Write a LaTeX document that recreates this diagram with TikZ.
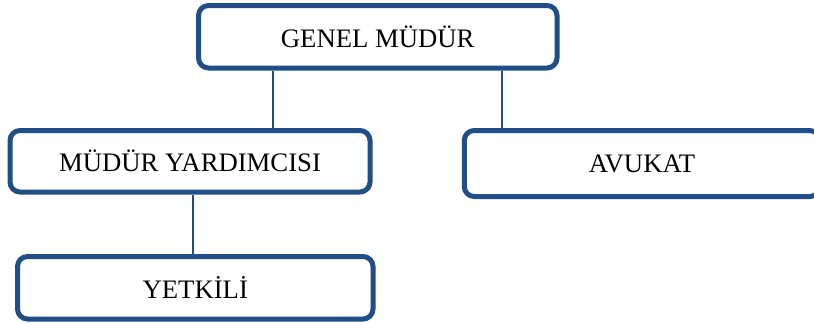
\documentclass[tikz,border=0pt]{standalone}
\usepackage{fontspec}
\setmainfont{Liberation Serif}
\usetikzlibrary{positioning}
\definecolor{boxblue}{RGB}{33,78,134}
\tikzset {
  % rounded box for one post
  post/.style = {
    draw = boxblue,
    line width = 5pt,
    rounded corners = 10pt,
    rectangle,
    fill = white,
    minimum width = 356pt,
    minimum height = 62pt,
    inner sep = 0,
    font = \fontsize{26.7}{32}\selectfont
  },
  % plain connector line
  link/.style = {
    draw = boxblue,
    line width = 2pt
  }
}

\begin{document}
\begin{tikzpicture}
    \clip (0pt,0pt) rectangle (814pt,-322pt);
    \node[post, minimum width = 358.5pt, minimum height = 62.5pt] (genel) at (377.75pt,-36.75pt) {GENEL MÜDÜR};
    \node[post, minimum width = 360pt, minimum height = 61.5pt] (yardimci) at (190pt,-161.25pt) {MÜDÜR YARDIMCISI};
    \node[post, minimum width = 355.5pt, minimum height = 66pt] (avukat) at (642pt,-163.5pt) {AVUKAT};
    \node[post, minimum width = 355.5pt, minimum height = 62.5pt] (yetkili) at (195.25pt,-287.75pt) {YETKİLİ};

    \draw[link] ([xshift=-104.75pt]genel.south) -- ([xshift=-104.75pt]genel.south |- yardimci.north);
    \draw[link] ([xshift=124.25pt]genel.south) -- ([xshift=124.25pt]genel.south |- avukat.north);
    \draw[link] ([xshift=3pt]yardimci.south) -- ([xshift=3pt]yardimci.south |- yetkili.north);
  \end{tikzpicture}
\end{document}
